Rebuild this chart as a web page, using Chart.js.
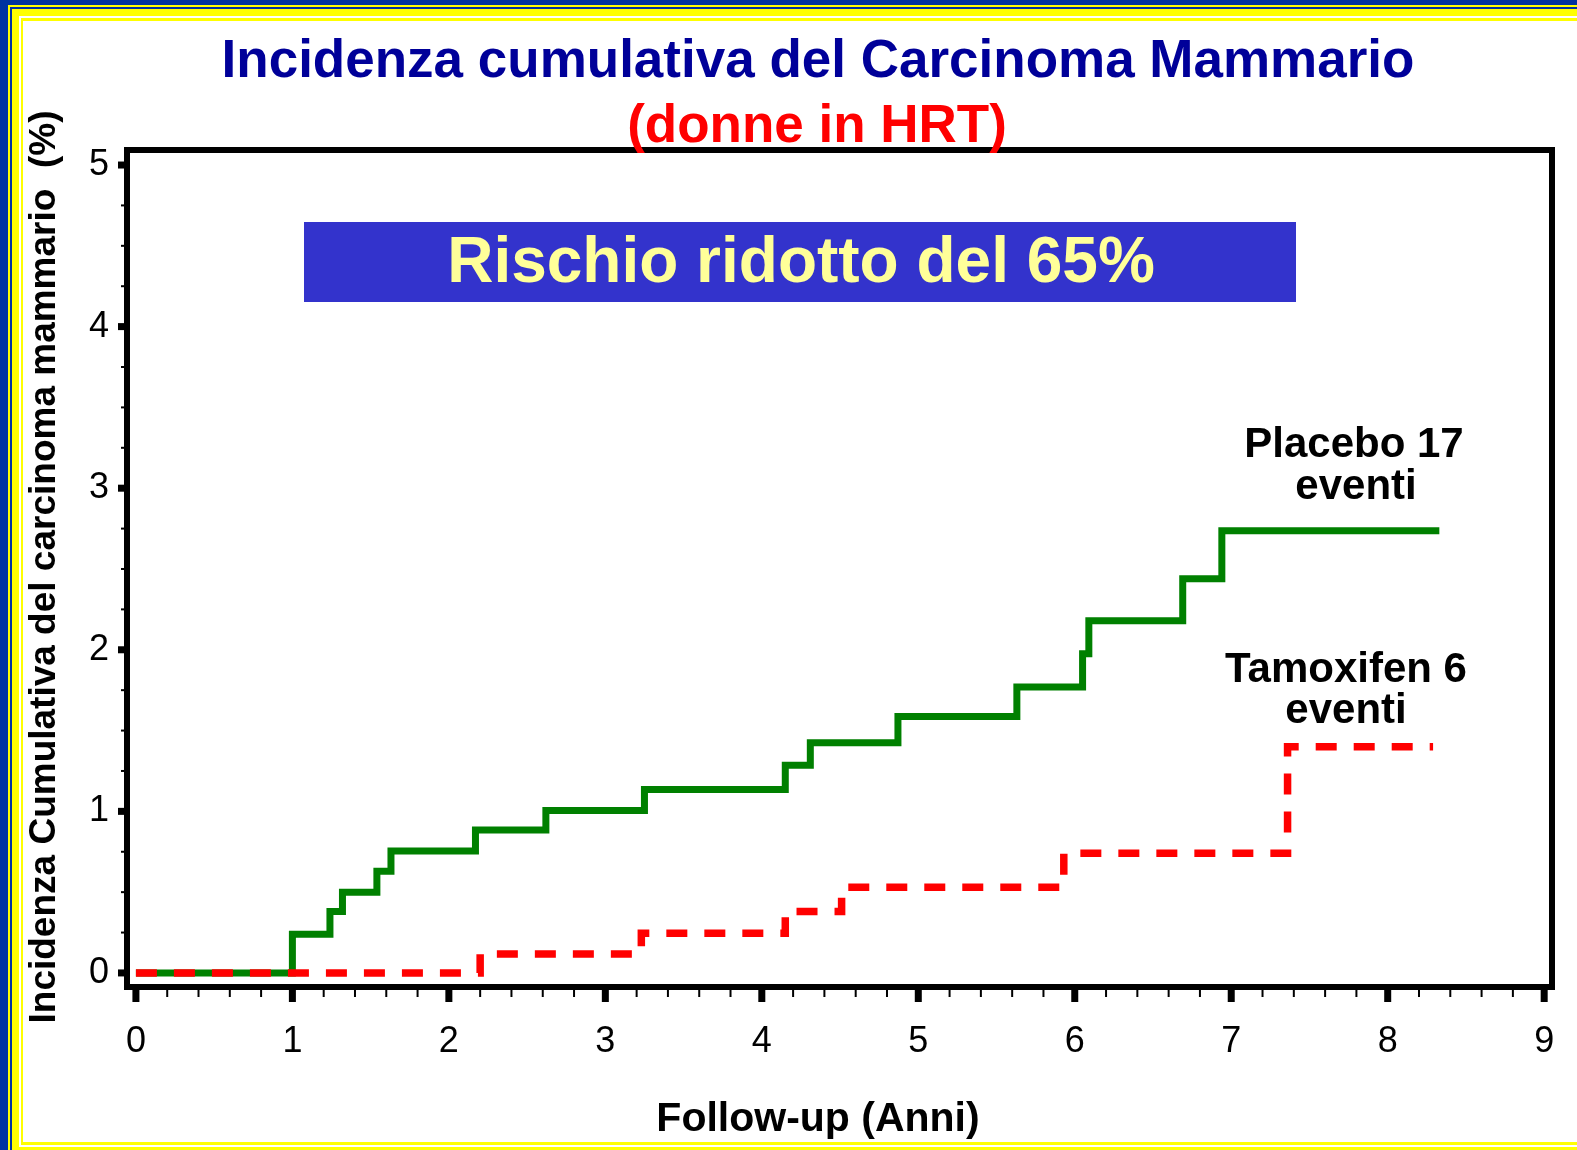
<!DOCTYPE html>
<html>
<head>
<meta charset="utf-8">
<style>
  html, body { margin: 0; padding: 0; background: #fff; }
  #wrap { width: 1577px; height: 1150px; }
</style>
<script src="https://cdn.jsdelivr.net/npm/chart.js@4.4.7/dist/chart.umd.min.js"></script>
</head>
<body>
<div id="wrap"><canvas id="chart" width="1577" height="1150"></canvas></div>
<script>
  // tick labels
  var xTickLabels = ['0', '1', '2', '3', '4', '5', '6', '7', '8', '9'];
  var yTickLabels = ['0', '1', '2', '3', '4', '5'];

  // Placebo (17 events) - step points
  var placeboX = [0, 1.0, 1.24, 1.32, 1.54, 1.63, 2.17, 2.62, 3.25, 4.15, 4.31, 4.87, 5.63, 6.05, 6.09, 6.69, 6.94, 8.33];
  var placeboY = [0, 0.24, 0.38, 0.5, 0.63, 0.755, 0.885, 1.005, 1.135, 1.285, 1.425, 1.587, 1.77, 1.975, 2.18, 2.44, 2.737, 2.737];

  // Tamoxifen (6 events)
  var tamoxX = [0, 2.2, 3.23, 4.15, 4.51, 5.93, 7.36, 8.29];
  var tamoxY = [0, 0.118, 0.245, 0.38, 0.53, 0.74, 1.4, 1.4];

  var FONT = '"Liberation Sans", Arial, Helvetica, sans-serif';

  function points(xs, ys) {
    return xs.map(function (x, i) { return { x: x, y: ys[i] }; });
  }

  function text(ctx, str, x, y, font, color) {
    ctx.font = font;
    ctx.fillStyle = color;
    ctx.textAlign = 'center';
    ctx.textBaseline = 'alphabetic';
    ctx.fillText(str, x, y);
  }

  var slidePlugin = {
    id: 'slide',
    beforeDraw: function (chart) {
      var c = chart.ctx, W = chart.width, H = chart.height;
      // slide border, cropped on the right and bottom
      var layers = [
        ['#0033A0', 0, 0, H],
        ['#FFFF00', 8, 5, H + 20],
        ['#0033A0', 10, 7, H + 20],
        ['#FFFF00', 12, 9, H + 20],
        ['#FFFFFF', 19, 16, 1147],
        ['#FFFF00', 21, 18, 1145],
        ['#FFFFFF', 23, 21, 1142],
      ];
      layers.forEach(function (l) {
        c.fillStyle = l[0];
        c.fillRect(l[1], l[2], W - l[1], l[3] - l[2]);
      });
    },
    afterDraw: function (chart) {
      var c = chart.ctx, ca = chart.chartArea;
      var xs = chart.scales.x, ys = chart.scales.y;
      c.save();

      // frame
      c.strokeStyle = '#000';
      c.lineWidth = 6;
      c.strokeRect(ca.left, ca.top, ca.right - ca.left, ca.bottom - ca.top);

      // tick marks, majors from the scales plus minor subdivisions
      c.fillStyle = '#000';
      xs.ticks.forEach(function (t, i) {
        var px = xs.getPixelForValue(t.value);
        c.fillRect(px - 3.5, ca.bottom, 7, 15);
        var next = xs.ticks[i + 1];
        if (!next) return;
        for (var k = 1; k < 5; k++) {
          var mx = xs.getPixelForValue(t.value + (next.value - t.value) * k / 5);
          c.fillRect(mx - 1, ca.bottom, 2, 10);
        }
      });
      ys.ticks.forEach(function (t, i) {
        var py = ys.getPixelForValue(t.value);
        c.fillRect(ca.left - 9, py - 3.5, 9, 7);
        var next = ys.ticks[i + 1];
        if (!next) return;
        for (var k = 1; k < 4; k++) {
          var my = ys.getPixelForValue(t.value + (next.value - t.value) * k / 4);
          c.fillRect(ca.left - 6, my - 1, 6, 2);
        }
      });

      // titles
      text(c, 'Incidenza cumulativa del Carcinoma Mammario', 818, 77, 'bold 53px ' + FONT, '#000099');
      text(c, '(donne in HRT)', 817, 142, 'bold 53px ' + FONT, '#FF0000');

      // banner
      c.fillStyle = '#3333CC';
      c.fillRect(304, 222, 992, 80);
      text(c, 'Rischio ridotto del 65%', 801, 282, 'bold 64px ' + FONT, '#FFFF99');

      // series labels
      text(c, 'Placebo 17', 1354, 457, 'bold 42px ' + FONT, '#000');
      text(c, 'eventi', 1356, 499, 'bold 42px ' + FONT, '#000');
      text(c, 'Tamoxifen 6', 1346, 682, 'bold 42px ' + FONT, '#000');
      text(c, 'eventi', 1346, 723, 'bold 42px ' + FONT, '#000');

      // axis titles
      text(c, 'Follow-up (Anni)', 818, 1131, 'bold 41px ' + FONT, '#000');
      c.translate(55, 567);
      c.rotate(-Math.PI / 2);
      text(c, 'Incidenza Cumulativa del carcinoma mammario  (%)', 0, 0, 'bold 37px ' + FONT, '#000');

      c.restore();
    },
  };

  var hiddenGrid = {
    drawOnChartArea: false,
    drawTicks: true,
    color: 'rgba(0,0,0,0)',
    tickColor: 'rgba(0,0,0,0)',
  };

  var ctx = document.getElementById('chart').getContext('2d');
  new Chart(ctx, {
    type: 'line',
    data: {
      datasets: [
        {
          label: 'Tamoxifen',
          data: points(tamoxX, tamoxY),
          borderColor: '#FF0000',
          borderWidth: 7.5,
          borderDash: [21, 17],
          borderCapStyle: 'butt',
          borderJoinStyle: 'miter',
          stepped: 'before',
          pointRadius: 0,
          fill: false,
          order: 0,
        },
        {
          label: 'Placebo',
          data: points(placeboX, placeboY),
          borderColor: '#008000',
          borderWidth: 7,
          borderJoinStyle: 'miter',
          stepped: 'before',
          pointRadius: 0,
          fill: false,
          order: 1,
        },
      ],
    },
    options: {
      responsive: false,
      animation: false,
      devicePixelRatio: 1,
      layout: { padding: { left: 0, top: 150, right: 25, bottom: 0 } },
      plugins: {
        legend: { display: false },
        tooltip: { enabled: false },
      },
      scales: {
        x: {
          type: 'linear',
          min: -0.057,
          max: 9.05,
          afterBuildTicks: function (s) {
            s.ticks = xTickLabels.map(function (t) { return { value: Number(t) }; });
          },
          afterFit: function (s) { s.height = 163; },
          grid: Object.assign({ tickLength: 31 }, hiddenGrid),
          border: { display: false },
          ticks: {
            autoSkip: false,
            maxRotation: 0,
            padding: 2,
            color: '#000',
            font: { family: FONT, size: 36 },
            callback: function (v) { return String(v); },
          },
        },
        y: {
          type: 'linear',
          min: -0.087,
          max: 5.093,
          afterBuildTicks: function (s) {
            s.ticks = yTickLabels.map(function (t) { return { value: Number(t) }; });
          },
          afterFit: function (s) { s.width = 127; },
          grid: Object.assign({ tickLength: 15 }, hiddenGrid),
          border: { display: false },
          ticks: {
            autoSkip: false,
            padding: 3,
            color: '#000',
            font: { family: FONT, size: 36 },
            callback: function (v) { return String(v); },
          },
        },
      },
    },
    plugins: [slidePlugin],
  });
</script>
</body>
</html>
